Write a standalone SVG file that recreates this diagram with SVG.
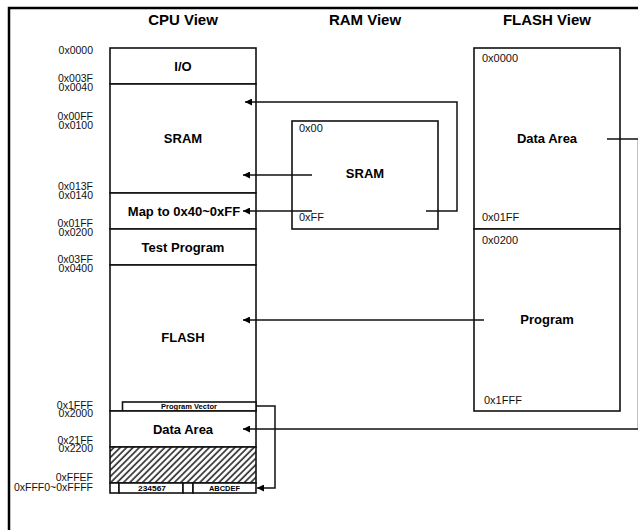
<svg xmlns="http://www.w3.org/2000/svg" width="638" height="530" viewBox="0 0 638 530">
<style>
.box{fill:#fff;stroke:#111;stroke-width:1.6}
.con{fill:none;stroke:#111;stroke-width:1.5}
.t{font-family:"Liberation Sans",Arial,sans-serif;fill:#000}
.title{font-size:15px;font-weight:bold;text-anchor:middle}
.lbl{font-size:13px;font-weight:bold;text-anchor:middle}
.addr{font-size:10.5px;text-anchor:end;fill:#111}
.addr2{font-size:11px;fill:#111}
.tiny{font-size:7.5px;font-weight:bold;text-anchor:middle}
</style>
<defs>
<marker id="ah" viewBox="0 0 10 10" refX="10" refY="5" markerWidth="8" markerHeight="7" markerUnits="userSpaceOnUse" orient="auto">
<path d="M0,0 L10,5 L0,10 z" fill="#000"/>
</marker>
<pattern id="hatch" width="4.5" height="4.5" patternUnits="userSpaceOnUse" patternTransform="rotate(45)">
<rect width="4.5" height="4.5" fill="#fff"/>
<line x1="1" y1="0" x2="1" y2="4.5" stroke="#333" stroke-width="1.7"/>
</pattern>
</defs>
<rect width="638" height="530" fill="#fff"/>
<g id="frame">
<path d="M9,530 V8 H638" fill="none" stroke="#000" stroke-width="2.5"/>
</g>
<g id="titles">
<text class="t title" x="183" y="25">CPU View</text>
<text class="t title" x="365" y="25">RAM View</text>
<text class="t title" x="547" y="25">FLASH View</text>
</g>
<g id="addresses">
<text class="t addr" x="93" y="54">0x0000</text>
<text class="t addr" x="93" y="82">0x003F</text>
<text class="t addr" x="93" y="91">0x0040</text>
<text class="t addr" x="93" y="120">0x00FF</text>
<text class="t addr" x="93" y="129">0x0100</text>
<text class="t addr" x="93" y="190">0x013F</text>
<text class="t addr" x="93" y="199">0x0140</text>
<text class="t addr" x="93" y="227">0x01FF</text>
<text class="t addr" x="93" y="236">0x0200</text>
<text class="t addr" x="93" y="263">0x03FF</text>
<text class="t addr" x="93" y="272">0x0400</text>
<text class="t addr" x="93" y="408.5">0x1FFF</text>
<text class="t addr" x="93" y="417">0x2000</text>
<text class="t addr" x="93" y="443.5">0x21FF</text>
<text class="t addr" x="93" y="452">0x2200</text>
<text class="t addr" x="93" y="481">0xFFEF</text>
<text class="t addr" x="93" y="491">0xFFF0~0xFFFF</text>
</g>
<g id="cpu-io">
<rect class="box" x="110" y="48" width="146" height="36"/>
<text class="t lbl" x="183" y="71">I/O</text>
</g>
<g id="cpu-sram">
<rect class="box" x="110" y="84" width="146" height="109"/>
<text class="t lbl" x="183" y="143">SRAM</text>
</g>
<g id="cpu-map">
<rect class="box" x="110" y="193" width="146" height="36"/>
<text class="t lbl" x="184" y="215.5">Map to 0x40~0xFF</text>
</g>
<g id="cpu-test">
<rect class="box" x="110" y="229" width="146" height="36"/>
<text class="t lbl" x="183" y="251.5">Test Program</text>
</g>
<g id="cpu-flash">
<rect class="box" x="110" y="265" width="146" height="146"/>
<text class="t lbl" x="183" y="341.5">FLASH</text>
</g>
<g id="cpu-pv">
<rect class="box" x="122.5" y="402" width="133.5" height="9"/>
<text class="t tiny" x="189" y="409.3">Program Vector</text>
</g>
<g id="cpu-data">
<rect class="box" x="110" y="411" width="146" height="36"/>
<text class="t lbl" x="183" y="433.5">Data Area</text>
</g>
<g id="cpu-hatch">
<rect x="110" y="447" width="146" height="36" fill="url(#hatch)" stroke="#111" stroke-width="1.6"/>
</g>
<g id="cpu-vectors">
<rect class="box" x="110" y="483" width="9" height="10"/>
<rect class="box" x="119" y="483" width="64" height="10"/>
<rect class="box" x="183" y="483" width="10" height="10"/>
<rect class="box" x="193" y="483" width="63" height="10"/>
<text class="t tiny" x="152" y="490.5" textLength="28" lengthAdjust="spacingAndGlyphs">234567</text>
<text class="t tiny" x="224.5" y="490.5" textLength="31" lengthAdjust="spacingAndGlyphs">ABCDEF</text>
</g>
<g id="ram-sram">
<rect class="box" x="292" y="121" width="146" height="108"/>
<text class="t addr2" x="299" y="132">0x00</text>
<text class="t lbl" x="365" y="178">SRAM</text>
<text class="t addr2" x="299" y="221">0xFF</text>
</g>
<g id="flash-data">
<rect class="box" x="474" y="48" width="146" height="181"/>
<text class="t addr2" x="482" y="62">0x0000</text>
<text class="t lbl" x="547" y="142.5">Data Area</text>
<text class="t addr2" x="482" y="221">0x01FF</text>
</g>
<g id="flash-program">
<rect class="box" x="474" y="229" width="146" height="182"/>
<text class="t addr2" x="482" y="244">0x0200</text>
<text class="t lbl" x="547" y="324">Program</text>
<text class="t addr2" x="484" y="404">0x1FFF</text>
</g>
<g id="connectors">
<path class="con" d="M426,211 H457 V102 H245" marker-end="url(#ah)"/>
<path class="con" d="M312,175 H243" marker-end="url(#ah)"/>
<path class="con" d="M312,211 H243" marker-end="url(#ah)"/>
<path class="con" d="M484,320 H243" marker-end="url(#ah)"/>
<path class="con" d="M607,139 H638.5 V429 H243" marker-end="url(#ah)"/>
<path class="con" d="M256,406 H275 V488 H257" marker-end="url(#ah)"/>
</g>
</svg>
